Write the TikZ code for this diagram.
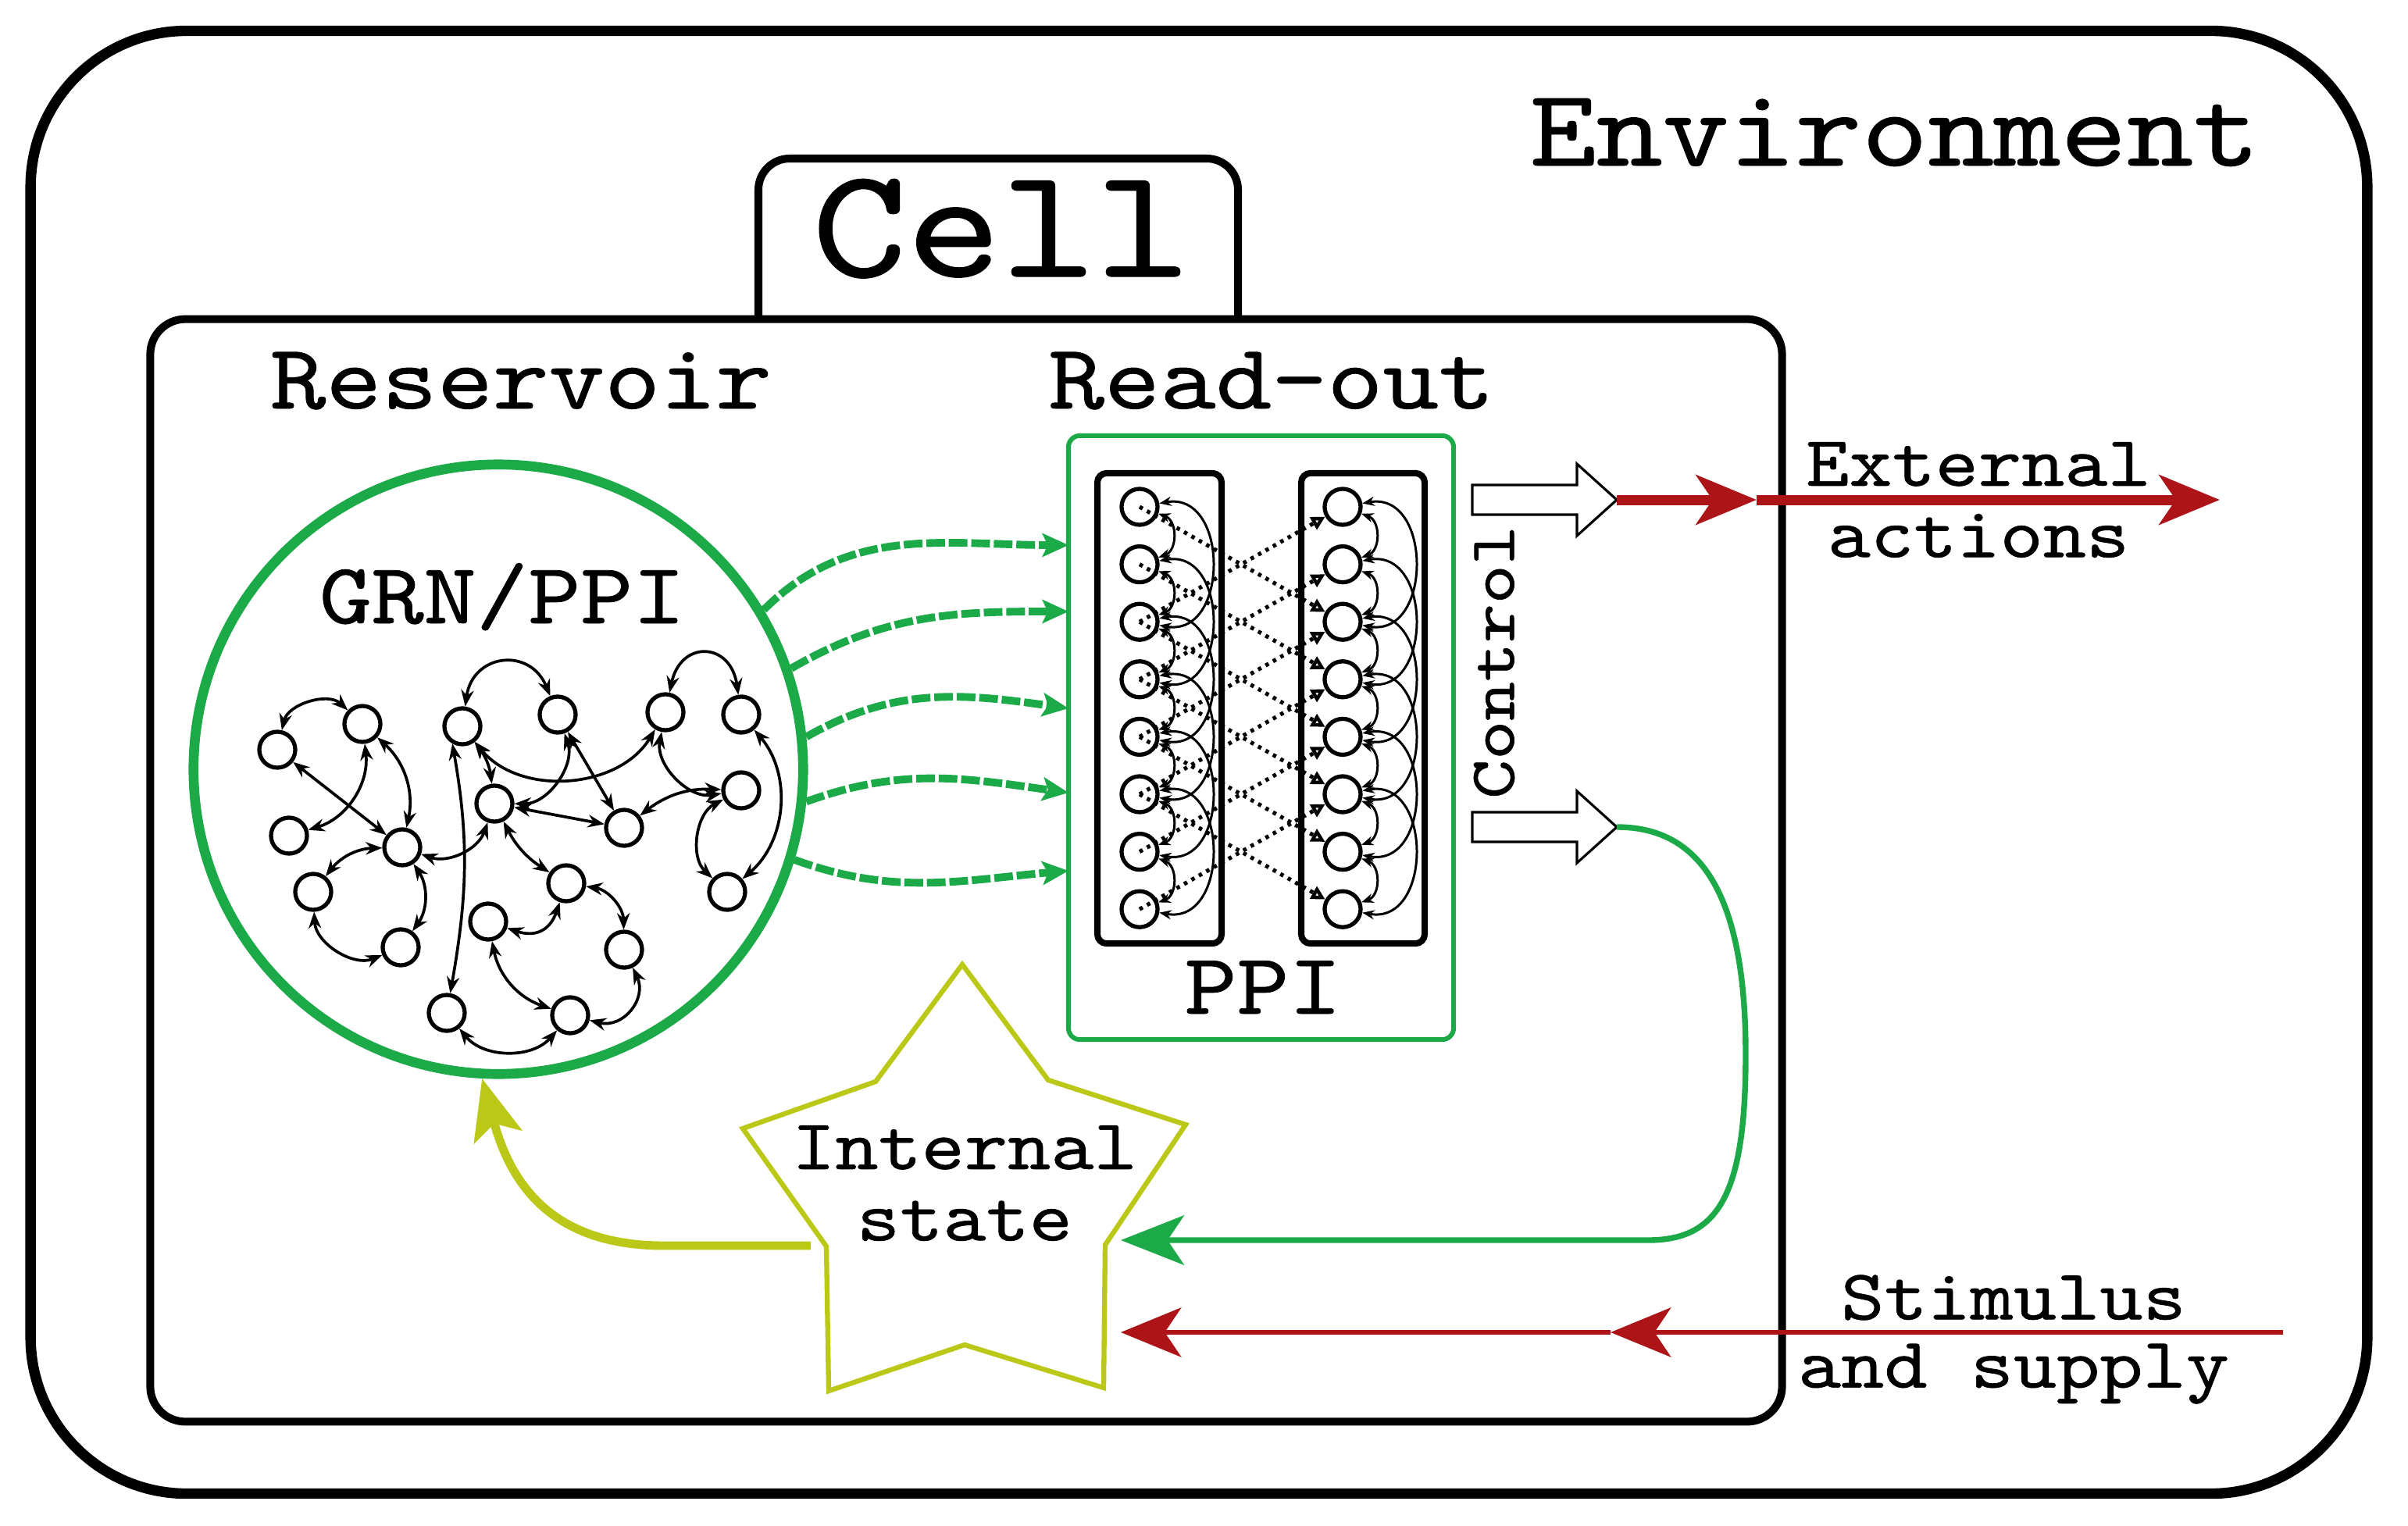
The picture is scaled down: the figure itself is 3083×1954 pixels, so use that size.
\documentclass[tikz,border=0pt]{standalone}
\usepackage{fontspec}
\setmonofont{lmmono10-regular.otf}[FakeStretch=1.15, FakeBold=0.7]
\usetikzlibrary{arrows.meta}

\definecolor{resgreen}{RGB}{28,170,72}
\definecolor{statelime}{RGB}{188,200,24}
\definecolor{actred}{RGB}{172,20,24}

\begin{document}
\begin{tikzpicture}[x=0.01cm, y=-0.01cm,
  netnode/.style={circle, draw, fill=white, line width=1.5pt,
                  minimum size=0.46cm, inner sep=0pt},
  netarr/.style={<->, >={Stealth[length=6pt,width=4.6pt]}, line width=1.05pt},
  ppiarr/.style={<->, >={Stealth[length=4.4pt,width=3.4pt]}, line width=0.85pt},
  dotarr/.style={-{Triangle[open,length=5pt,width=5pt]}, line width=1.45pt,
                 dash pattern=on 1.3pt off 1.8pt},
  readarr/.style={-{Stealth[length=9.5pt,width=8.5pt,inset=2pt]}, resgreen,
                  line width=2.8pt, dash pattern=on 6.8pt off 1.4pt},
  blockarr/.style={draw, fill=white, line width=0.9pt},
  redarr/.style={-{Stealth[length=22pt,width=18pt,inset=6pt]}, actred},
  colbox/.style={draw, line width=2.3pt, rounded corners=0.12cm,
                 minimum width=1.59cm, minimum height=6.02cm},
  lbl/.style={font=\ttfamily\fontsize{26}{26}\selectfont, align=center, inner sep=0pt},
  heading/.style={font=\ttfamily\fontsize{33.6}{33.6}\selectfont, inner sep=0pt, anchor=base},
]
  \useasboundingbox (0,0) rectangle (3083,1954);

  % environment and cell
  \node[draw, line width=3.8pt, rounded corners=2cm, minimum width=29.9cm,
        minimum height=18.72cm] (env) at (1535,976) {};
  \node[draw, line width=2.85pt, rounded corners=0.45cm, minimum width=20.88cm,
        minimum height=14.11cm] (cell) at (1237,1114.5) {};
  \draw[line width=2.85pt, rounded corners=0.4cm] (971,409) -- (971,203) -- (1585,203) -- (1585,409);
  \node[font=\ttfamily\fontsize{40}{40}\selectfont, inner sep=0pt, anchor=base] (envlbl) at (2426,212) {Environment};
  \node[font=\ttfamily\fontsize{57}{57}\selectfont, inner sep=0pt, anchor=base] (celllbl) at (1282,354) {Cell};
  \node[heading] (reslbl) at (667,523) {Reservoir};
  \node[heading] (readlbl) at (1628,523) {Read-out};

  % reservoir network
  \node[circle, draw=resgreen, line width=3.6pt, minimum size=7.8cm] (res) at (638,985) {};
  \node[heading, font=\ttfamily\fontsize{31.5}{31.5}\selectfont] (grnlbl) at (643,798) {GRN/PPI};
  \foreach \n/\x/\y in {1/355/960, 2/464/927, 3/370/1070, 4/515/1085, 5/401/1142,
      6/513/1213, 7/592/930, 8/714/915, 9/633/1029, 10/852/912, 11/949/915,
      12/949/1012, 13/799/1060, 14/725/1131, 15/625/1180, 16/799/1216,
      17/931/1142, 18/572/1297, 19/730/1300}
    \node[netnode] (n\n) at (\x,\y) {};

  \draw[netarr] (n1) to[bend left=60] (n2);
  \draw[netarr] (n1) -- (n4);
  \draw[netarr] (n2) to[bend left=40] (n3);
  \draw[netarr] (n2) to[bend left=30] (n4);
  \draw[netarr] (n4) to[bend right=25] (n5);
  \draw[netarr] (n4) to[bend left=35] (n6);
  \draw[netarr] (n5) to[bend right=55] (n6);
  \draw[netarr] (n4) to[bend right=45] (n9);
  \draw[netarr] (n7) to[bend left=75, looseness=1.6] (n8);
  \draw[netarr] (n7.240) to[out=-80, in=80] (n18);
  \draw[netarr] (n7) to[bend left=15] (n9);
  \draw[netarr] (n7) to[bend right=55] (n10);
  \draw[netarr] (n8) to[bend left=55] (n9);
  \draw[netarr] (n8) -- (n13);
  \draw[netarr] (n9) -- (n13);
  \draw[netarr] (n9) to[bend right=15] (n14);
  \draw[netarr] (n10) to[bend left=80, looseness=2] (n11);
  \draw[netarr] (n10) to[bend right=55] (n12);
  \draw[netarr] (n13) to[bend left=20] (n12);
  \draw[netarr] (n12) to[bend right=55] (n17);
  \draw[netarr] (n11) to[bend left=45] (n17);
  \draw[netarr] (n14) to[bend left=45, looseness=1.3] (n15);
  \draw[netarr] (n14) to[bend left=40] (n16);
  \draw[netarr] (n15) to[bend right=30] (n19);
  \draw[netarr] (n19) to[bend right=65, looseness=1.3] (n16);
  \draw[netarr] (n18) to[bend right=50] (n19);

  % read-out layer
  \node[draw=resgreen, line width=1.7pt, rounded corners=0.15cm, minimum width=4.93cm,
        minimum height=7.73cm] (readout) at (1614.5,944.5) {};
  \node[colbox] (lcol) at (1484.5,907) {};
  \node[colbox, minimum width=1.58cm] (rcol) at (1745,907) {};
  \node[heading, font=\ttfamily\fontsize{31.5}{31.5}\selectfont] (ppilbl) at (1617,1298) {PPI};

  \foreach \i in {1,...,8} {
    \node[netnode] (l\i) at (1459,{649+73.6*(\i-1)}) {};
    \node[netnode] (r\i) at (1719,{649+73.6*(\i-1)}) {};
  }
  \foreach \i in {1,...,7} {
    \pgfmathtruncatemacro{\j}{\i+1}
    \draw[ppiarr] (l\i) to[bend left=70, looseness=1.2] (l\j);
    \draw[ppiarr] (r\i) to[bend left=70, looseness=1.2] (r\j);
  }
  \foreach \i in {1,...,6} {
    \pgfmathtruncatemacro{\j}{\i+2}
    \draw[ppiarr] (l\i) to[bend left=100, looseness=1.5] (l\j);
    \draw[ppiarr] (r\i) to[bend left=100, looseness=1.5] (r\j);
    \draw[dotarr] (l\i.center) -- (r\j);
    \draw[dotarr] (l\j.center) -- (r\i);
  }

  % reservoir to read-out
  \coordinate (in1) at (1368,698);
  \coordinate (in2) at (1368,783);
  \coordinate (in3) at (1368,907);
  \coordinate (in4) at (1368,1015);
  \coordinate (in5) at (1368,1115);
  \draw[readarr] (res.31) to[out=45, in=180] (in1);
  \draw[readarr] (res.19) to[out=30, in=180] (in2);
  \draw[readarr] (res.6) to[out=30, in=172] (in3);
  \draw[readarr] (res.-6) to[out=20, in=172] (in4);
  \draw[readarr] (res.-17) to[out=-20, in=185] (in5);

  % control outputs
  \coordinate (ctrltop) at (2070,640);
  \coordinate (ctrlbot) at (2070,1059);
  \draw[blockarr] (1885,621) -- (2019,621) -- (2019,594) -- (ctrltop) -- (2019,686)
    -- (2019,659) -- (1885,659) -- cycle;
  \draw[blockarr] (1885,1040) -- (2019,1040) -- (2019,1013) -- (ctrlbot) -- (2019,1105)
    -- (2019,1078) -- (1885,1078) -- cycle;
  \node[lbl, font=\ttfamily\fontsize{23.5}{23.5}\selectfont, rotate=90] (ctrllbl) at (1913,848) {Control};

  \coordinate (extmid) at (2249,640);
  \coordinate (extend) at (2842,640);
  \draw[redarr, line width=3.7pt] (ctrltop) -- (extmid);
  \draw[redarr, line width=3.7pt] (extmid) -- (extend);
  \node[lbl] (extlbl) at (2533,640) {External\\actions};

  % internal state
  \draw[statelime, line width=1.8pt] (1232,1235) -- (1342,1383) -- (1518,1440) -- (1415,1594)
    -- (1413,1777) -- (1235,1722) -- (1061,1781) -- (1058,1596) -- (951,1445) -- (1121,1385) -- cycle;
  \node[lbl] (statelbl) at (1235,1515) {Internal\\state};

  \coordinate (stateout) at (1038,1595);
  \draw[statelime, line width=3.1pt, -{Stealth[length=22pt,width=18pt,inset=5pt]}]
    (stateout) -- (850,1595) .. controls (710,1595) and (655,1520) .. (res.-93);

  \coordinate (fbend) at (1435,1588);
  \draw[resgreen, line width=2.1pt, -{Stealth[length=23pt,width=18pt,inset=6pt]}]
    (ctrlbot) .. controls (2180,1059) and (2235,1150) .. (2235,1350)
    .. controls (2235,1530) and (2200,1588) .. (2110,1588) -- (fbend);

  % stimulus
  \coordinate (stimstart) at (2923,1706);
  \coordinate (stimmid) at (2062,1706);
  \coordinate (stimend) at (1435,1706);
  \draw[redarr, line width=1.7pt] (stimstart) -- (stimmid);
  \draw[redarr, line width=1.7pt] (stimmid) -- (stimend);
  \node[lbl, font=\ttfamily\fontsize{26}{24.8}\selectfont] (stimlbl) at (2578,1715) {Stimulus\\and supply};
\end{tikzpicture}
\end{document}
